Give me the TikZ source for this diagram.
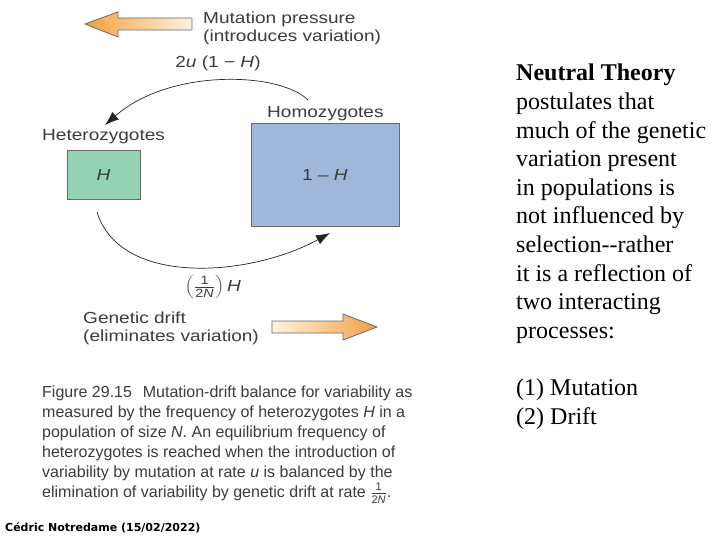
\documentclass[tikz,border=0pt]{standalone}
\usepackage{fontspec}
\usepackage{graphicx}
\setmainfont{Liberation Sans}
\newfontfamily\serifTNR{Liberation Serif}
\newfontfamily\footfont{DejaVu Sans}
\usetikzlibrary{arrows.meta}
\definecolor{txt}{HTML}{3C3C3C}
\definecolor{orangeA}{HTML}{F4A040}
\definecolor{orangeB}{HTML}{FDF2E2}
\definecolor{greenbox}{HTML}{93D2B5}
\definecolor{bluebox}{HTML}{9FB8DA}
\definecolor{edge}{HTML}{6A6A6A}
\newcommand\smallfr[2]{\frac{\mbox{\fontsize{11}{11}\selectfont #1}}{\mbox{\fontsize{11}{11}\selectfont #2}}}
\newcommand\wide[1]{\scalebox{1.19}[1]{#1}}
\begin{document}
\begin{tikzpicture}[x=1pt,y=-1pt,
  lbl/.style={font=\fontsize{16}{16}\selectfont, text=txt, inner sep=0pt},
  captext/.style={font=\fontsize{16}{20}\selectfont, text=txt, inner sep=0pt, align=left},
  popbox/.style={draw=edge, line width=0.9pt, font=\fontsize{16}{16}\selectfont, text=txt},
  flow/.style={line width=0.7pt, draw=black!85, -{Latex[length=14pt,width=10pt]}},
  bigarrow/.style={draw=edge, line width=0.8pt}]
\useasboundingbox (0,0) rectangle (720,540);
\fill[white] (0,0) rectangle (720,540);

% broad process arrows
\shadedraw[bigarrow, left color=orangeA, right color=orangeB]
  (85,24) -- (118,12) -- (118,18) -- (192,18) -- (192,30) -- (118,30) -- (118,37) -- cycle;
\shadedraw[bigarrow, left color=orangeB, right color=orangeA]
  (272,321) -- (343,321) -- (343,314) -- (377,327) -- (343,340) -- (343,333) -- (272,333) -- cycle;

% labels
\node[lbl, anchor=base west] (mp1) at (203,24) {\wide{Mutation pressure}};
\node[lbl, anchor=base west] (mp2) at (203,42) {\wide{(introduces variation)}};
\node[lbl] (mutrate) at (218,63) {\wide{2\textit{u} (1 − \textit{H})}};
\node[lbl, anchor=base west] (hetlbl) at (42,141) {\wide{Heterozygotes}};
\node[lbl, anchor=base west] (homlbl) at (267,118) {\wide{Homozygotes}};

% boxes
\node[popbox, fill=greenbox, minimum width=73pt, minimum height=49pt] (het) at (103.5,174.5) {\wide{\textit{H}}};
\node[popbox, fill=bluebox, minimum width=148pt, minimum height=103pt] (hom) at (325,174.5) {\wide{1 – \textit{H}}};

% flows
\coordinate (mutS) at (308,100);
\coordinate (mutE) at (105,125);
\coordinate (driftS) at (97,212);
\coordinate (driftE) at (330,233);
\draw[flow] (mutS) .. controls (280,72) and (170,68) .. (mutE);
\draw[flow] (driftS) .. controls (120,287) and (250,277) .. (driftE);

\node[lbl] (driftrate) at (213,287) {\wide{$\left(\frac{\mbox{\fontsize{12}{12}\selectfont 1}}{\mbox{\fontsize{12}{12}\selectfont 2\textit{N}}}\right)$\,\textit{H}}};
\node[lbl, anchor=base west] (gd1) at (83,323) {\wide{Genetic drift}};
\node[lbl, anchor=base west] (gd2) at (83,341) {\wide{(eliminates variation)}};

% caption
\node[captext, anchor=north west] (caption) at (42,386) {Figure 29.15\hspace{0.4em} Mutation-drift balance for variability as\\
measured by the frequency of heterozygotes \textit{H} in a\\
population of size \textit{N}. An equilibrium frequency of\\
heterozygotes is reached when the introduction of\\
variability by mutation at rate \textit{u} is balanced by the\\
elimination of variability by genetic drift at rate $\smallfr{1}{2\textit{N}}$.};

% credit
\node[font=\footfont\bfseries\fontsize{11}{11}\selectfont, anchor=base west, inner sep=0pt] (credit) at (5,531) {Cédric Notredame (15/02/2022)};

% right text
\node[font=\serifTNR\fontsize{24}{28.6}\selectfont, anchor=north west, align=left, inner sep=0pt, text=black] (theory) at (516,64)
{\textbf{Neutral Theory}\\
postulates that\\
much of the genetic\\
variation present\\
in populations is\\
not influenced by\\
selection-{}-rather\\
it is a reflection of\\
two interacting\\
processes:\\[28.6pt]
(1) Mutation\\
(2) Drift};
\end{tikzpicture}
\end{document}
